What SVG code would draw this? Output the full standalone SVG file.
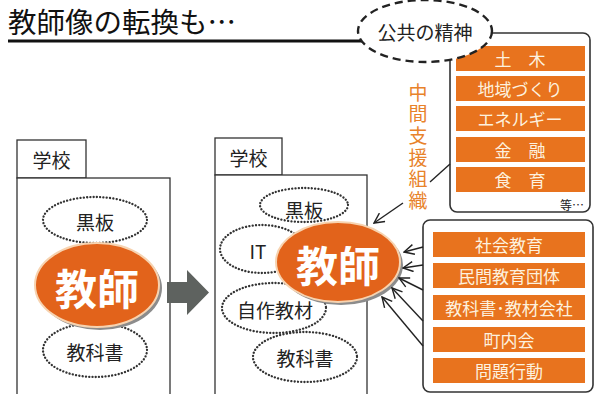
<svg xmlns="http://www.w3.org/2000/svg" width="597" height="394" viewBox="0 0 597 394">
<defs>
<style>
text{font-family:"Noto Sans CJK JP","Noto Sans",sans-serif;}
.box{fill:#fff;stroke:#333;stroke-width:1.3;}
.rbox{fill:#fff;stroke:#333;stroke-width:1.6;}
.dot{fill:none;stroke:#333;stroke-width:2.3;stroke-dasharray:0.1 3.2;stroke-linecap:round;}
.lbl{font-size:19px;fill:#222;text-anchor:middle;dominant-baseline:central;}
.bar{fill:#e8731e;}
.bt{font-size:17px;fill:#fdf1de;text-anchor:middle;dominant-baseline:central;}
.tshadow{fill:#8c8c8c;}
.teach{fill:#e2631b;stroke:#f7d3b0;stroke-width:2;}
.tt{font-size:42px;font-weight:bold;fill:#fff;text-anchor:middle;dominant-baseline:central;}
.conn{fill:none;stroke:#222;stroke-width:1.4;}
</style>
<marker id="ah" viewBox="0 0 12 12" refX="11" refY="6" markerWidth="12" markerHeight="12" markerUnits="userSpaceOnUse" orient="auto">
<path d="M1,1 L11,6 L1,11" fill="none" stroke="#222" stroke-width="1.4"/>
</marker>
</defs>
<rect width="597" height="394" fill="#fff"/>

<g id="title">
<text x="8" y="33" font-size="28.5" fill="#111">教師像の転換も…</text>
<line x1="8" y1="41" x2="362" y2="41" stroke="#111" stroke-width="3"/>
</g>

<g id="themes">
<rect class="rbox" x="450" y="33" width="140" height="179" rx="7"/>
<rect class="bar" x="456" y="46" width="129" height="25"/>
<text class="bt" x="520" y="58.5">土　木</text>
<rect class="bar" x="456" y="76" width="129" height="25"/>
<text class="bt" x="520" y="88.5">地域づくり</text>
<rect class="bar" x="456" y="106" width="129" height="25"/>
<text class="bt" x="520" y="118.5">エネルギー</text>
<rect class="bar" x="456" y="137" width="129" height="25"/>
<text class="bt" x="520" y="149.5">金　融</text>
<rect class="bar" x="456" y="167" width="129" height="25"/>
<text class="bt" x="520" y="179.5">食　育</text>
<text x="572" y="204" font-size="12" fill="#222" text-anchor="middle" dominant-baseline="central">等…</text>
</g>

<g id="public-spirit">
<ellipse cx="425" cy="31" rx="67" ry="31" fill="#fff" stroke="#222" stroke-width="2.4" stroke-dasharray="8 5"/>
<text class="lbl" x="425" y="31" font-size="20">公共の精神</text>
</g>

<g id="intermediary">
<text x="418" y="83" font-size="19" fill="#e8822a" writing-mode="vertical-rl" style="letter-spacing:2.6px">中間支援組織</text>
</g>

<g id="school-old">
<rect class="box" x="17" y="140" width="69" height="38"/>
<text class="lbl" x="51.5" y="159">学校</text>
<rect class="box" x="17" y="178" width="153" height="230"/>
<ellipse class="dot" cx="95" cy="220" rx="52" ry="23"/>
<text class="lbl" x="95" y="221">黒板</text>
<ellipse class="dot" cx="95" cy="350" rx="52" ry="27"/>
<text class="lbl" x="95" y="351">教科書</text>
<ellipse class="tshadow" cx="100" cy="288" rx="62" ry="42"/>
<ellipse class="teach" cx="97" cy="285" rx="62" ry="42"/>
<text class="tt" x="97" y="286">教師</text>
</g>

<g id="transition-arrow">
<polygon points="167,282 187,282 187,270 209,292.5 187,315 187,303 167,303" fill="#5e625f"/>
</g>

<g id="school-new">
<rect class="box" x="215" y="138" width="67" height="37"/>
<text class="lbl" x="248.5" y="157">学校</text>
<rect class="box" x="215" y="175" width="152" height="230"/>
<ellipse class="dot" cx="304" cy="205" rx="44" ry="17"/>
<text class="lbl" x="304" y="209">黒板</text>
<ellipse class="dot" cx="262" cy="249" rx="42" ry="24"/>
<text class="lbl" x="258" y="250">IT</text>
<ellipse class="dot" cx="274" cy="308" rx="52" ry="25"/>
<text class="lbl" x="275" y="309" font-size="20">自作教材</text>
<ellipse class="dot" cx="305" cy="357" rx="52" ry="25"/>
<text class="lbl" x="305" y="357" font-size="20">教科書</text>
<ellipse class="tshadow" cx="341" cy="265" rx="62" ry="40"/>
<ellipse class="teach" cx="338" cy="262" rx="62" ry="40"/>
<text class="tt" x="338" y="263">教師</text>
</g>

<g id="community">
<rect class="rbox" x="423" y="220" width="170" height="172" rx="7"/>
<rect class="bar" x="433" y="232" width="152" height="25"/>
<text class="bt" x="509" y="244.5" font-size="18">社会教育</text>
<rect class="bar" x="433" y="263" width="152" height="25"/>
<text class="bt" x="509" y="275.5" font-size="18">民間教育団体</text>
<rect class="bar" x="433" y="295" width="152" height="25"/>
<text class="bt" x="509" y="307.5" font-size="18">教科書･教材会社</text>
<rect class="bar" x="433" y="327" width="152" height="25"/>
<text class="bt" x="509" y="339.5" font-size="18">町内会</text>
<rect class="bar" x="433" y="358" width="152" height="25"/>
<text class="bt" x="509" y="370.5" font-size="18">問題行動</text>
</g>

<g id="connectors">
<line class="conn" x1="430" y1="182" x2="450" y2="164"/>
<line class="conn" x1="403" y1="203" x2="374" y2="223" marker-end="url(#ah)"/>
<line class="conn" x1="423" y1="247" x2="404" y2="252" marker-end="url(#ah)"/>
<line class="conn" x1="423" y1="265" x2="403" y2="268" marker-end="url(#ah)"/>
<line class="conn" x1="423" y1="290" x2="399" y2="278" marker-end="url(#ah)"/>
<line class="conn" x1="423" y1="321" x2="392" y2="288" marker-end="url(#ah)"/>
<line class="conn" x1="423" y1="346" x2="382" y2="297" marker-end="url(#ah)"/>
</g>
</svg>
